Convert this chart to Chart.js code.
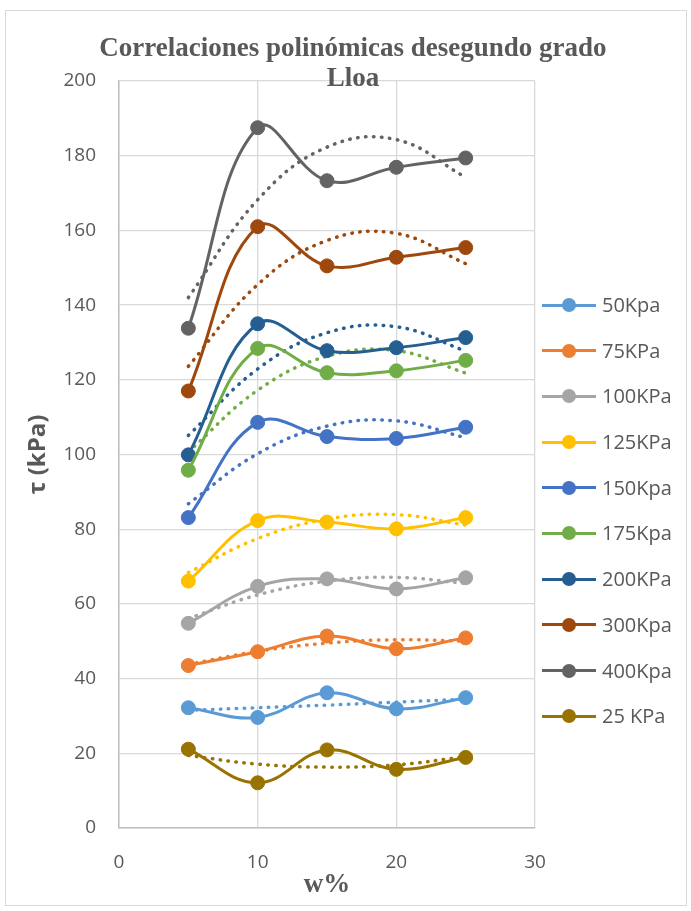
<!DOCTYPE html>
<html>
<head>
<meta charset="utf-8">
<script src="https://cdn.jsdelivr.net/npm/chart.js@4.4.0/dist/chart.umd.min.js"></script>
<style>
    html, body { margin: 0; padding: 0; background: #fff; }
    #wrap { position: relative; width: 691px; height: 911px; }
    #marco { position: absolute; left: 5px; top: 10px; width: 680px; height: 894px; border: 1px solid #d9d9d9; }
    #grafico { position: absolute; left: 0; top: 0; }
    #titulo { position: absolute; left: 0; top: 32px; width: 706px; text-align: center;
        font: bold 27px "Liberation Serif", serif; line-height: 30px; color: #595959; }
    #leyenda { position: absolute; left: 542px; top: 282px; font: 20px "Open Sans", sans-serif; color: #595959; }
    .item { position: relative; height: 45.7px; }
    .linea { position: absolute; left: 0; top: 21.5px; width: 54px; height: 3px; }
    .punto { position: absolute; left: 20px; top: 16px; width: 14px; height: 14px; border-radius: 50%; }
    .texto { position: absolute; left: 60px; top: 0; line-height: 45.7px; white-space: nowrap; }
</style>
</head>
<body>
<div id="wrap">
    <div id="marco"></div>
    <canvas id="grafico" width="691" height="911"></canvas>
    <div id="titulo">Correlaciones polinómicas desegundo grado<br>Lloa</div>
    <div id="leyenda"></div>
</div>
<script>
// Contenido de humedad (w%)
const wPct = [5, 10, 15, 20, 25];

// Series y colores (orden de la leyenda)
const etiquetas = ['50Kpa', '75KPa', '100KPa', '125KPa', '150Kpa', '175Kpa', '200KPa', '300Kpa', '400Kpa', '25 KPa'];
const colores = ['#5B9BD5', '#ED7D31', '#A5A5A5', '#FFC000', '#4472C4', '#70AD47', '#255E91', '#9E480E', '#636363', '#997300'];

// Esfuerzo cortante tau (kPa)
const tau50  = [32.2, 29.6, 36.2, 31.9, 34.9];
const tau75  = [43.5, 47.2, 51.4, 48.0, 50.9];
const tau100 = [54.8, 64.7, 66.7, 64.0, 67.0];
const tau125 = [66.1, 82.3, 81.9, 80.1, 83.1];
const tau150 = [83.1, 108.6, 104.8, 104.3, 107.3];
const tau175 = [95.8, 128.4, 121.9, 122.4, 125.2];
const tau200 = [99.9, 135.0, 127.8, 128.6, 131.3];
const tau300 = [117.0, 161.0, 150.5, 152.8, 155.4];
const tau400 = [133.8, 187.5, 173.3, 176.9, 179.4];
const tau25  = [21.1, 12.1, 20.9, 15.7, 18.9];

const tend50  = [31.5, 32.2, 32.9, 33.7, 34.5];
const tend75  = [43.8, 47.3, 49.5, 50.4, 50.0];
const tend100 = [56.1, 62.4, 66.1, 67.1, 65.5];
const tend125 = [68.4, 77.5, 82.7, 83.9, 81.1];
const tend150 = [86.8, 100.2, 107.6, 109.0, 104.5];
const tend175 = [100.7, 117.2, 126.3, 127.8, 121.8];
const tend200 = [105.1, 122.9, 132.6, 134.2, 127.7];
const tend300 = [123.6, 145.5, 157.3, 159.2, 151.1];
const tend400 = [142.0, 168.2, 182.3, 184.3, 174.2];
const tend25  = [19.4, 17.1, 16.3, 16.9, 19.1];

const series = [tau50, tau75, tau100, tau125, tau150, tau175, tau200, tau300, tau400, tau25];
const tendencias = [tend50, tend75, tend100, tend125, tend150, tend175, tend200, tend300, tend400, tend25];

const gris = '#595959';

function puntos(valores) {
    return valores.map((v, i) => ({ x: wPct[i], y: v }));
}

const datasets = [];
series.forEach((valores, i) => {
    datasets.push({
        label: etiquetas[i],
        data: puntos(valores),
        borderColor: colores[i],
        backgroundColor: colores[i],
        pointBackgroundColor: colores[i],
        pointBorderColor: colores[i],
        borderWidth: 3,
        pointRadius: 7,
        pointBorderWidth: 1,
        tension: 0.4,
        fill: false
    });
});
tendencias.forEach((valores, i) => {
    datasets.push({
        label: 'tendencia ' + etiquetas[i],
        data: puntos(valores),
        borderColor: colores[i],
        borderWidth: 3.5,
        borderDash: [0.5, 7.5],
        borderCapStyle: 'round',
        pointRadius: 0,
        tension: 0.4,
        fill: false
    });
});

// Leyenda en HTML
const leyenda = document.getElementById('leyenda');
etiquetas.forEach((txt, i) => {
    const fila = document.createElement('div');
    fila.className = 'item';
    fila.innerHTML = '<div class="linea" style="background:' + colores[i] + '"></div>' +
        '<div class="punto" style="background:' + colores[i] + '"></div>' +
        '<span class="texto">' + txt + '</span>';
    leyenda.appendChild(fila);
});

new Chart(document.getElementById('grafico'), {
    type: 'line',
    data: { datasets: datasets },
    options: {
        responsive: false,
        animation: false,
        layout: { padding: { left: 8, top: 81, right: 156, bottom: 8 } },
        plugins: {
            legend: { display: false },
            title: { display: false },
            tooltip: { enabled: false }
        },
        scales: {
            x: {
                type: 'linear',
                min: 0,
                max: 30,
                ticks: { stepSize: 10, color: gris, font: { family: 'Open Sans', size: 19 }, padding: 23 },
                grid: { color: '#d9d9d9', drawTicks: false, lineWidth: 1.3 },
                border: { color: '#bfbfbf', width: 1.5 },
                title: {
                    display: true, text: 'w%', color: gris,
                    font: { family: 'Liberation Serif', size: 27, weight: 'bold' },
                    padding: { top: 0, bottom: 2 }
                },
                afterFit: function(scale) { scale.height = 75; }
            },
            y: {
                min: 0,
                max: 200,
                ticks: { stepSize: 20, color: gris, font: { family: 'Open Sans', size: 19 }, padding: 23 },
                grid: { color: '#d9d9d9', drawTicks: false, lineWidth: 1.3 },
                border: { color: '#bfbfbf', width: 1.5 },
                title: {
                    display: true, text: 'τ (kPa)', color: gris,
                    font: { family: 'Open Sans', size: 24, weight: 'bold' },
                    padding: { top: 16, bottom: 0 }
                },
                afterFit: function(scale) { scale.width = 111; }
            }
        }
    }
});
</script>
</body>
</html>
